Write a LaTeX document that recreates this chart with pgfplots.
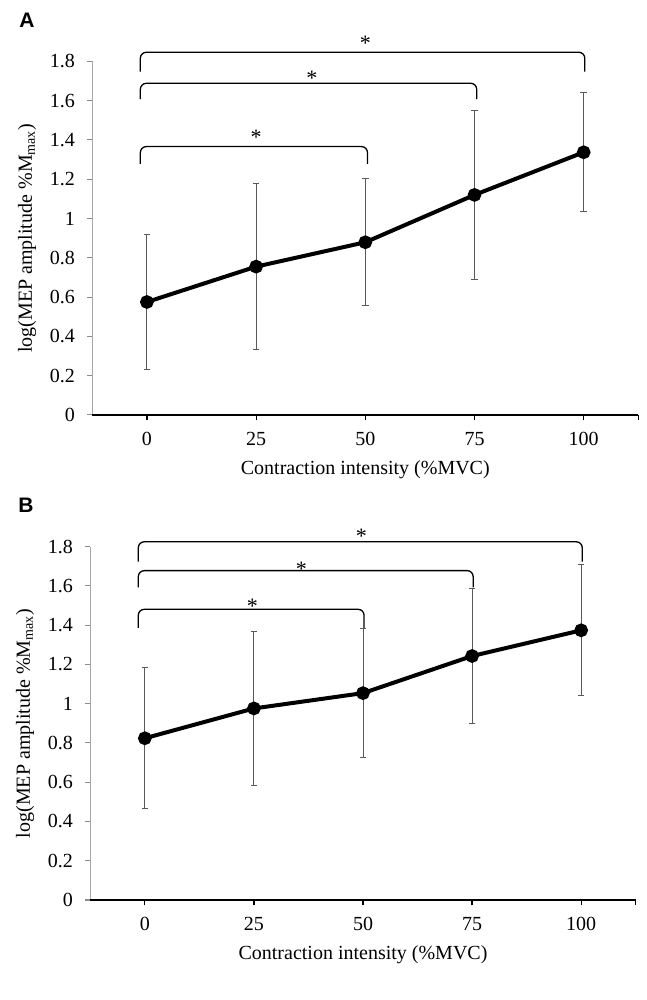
\documentclass[border=0pt]{standalone}
\usepackage{fontspec}
\setmainfont{Liberation Serif}
\newfontfamily\arialfont{Liberation Sans}
\usepackage{pgfplots}
\pgfplotsset{compat=1.18}
\usepackage{pgfplotstable}

\pgfplotstableread{
x y e
0 0.575 0.345
1 0.755 0.422
2 0.879 0.323
3 1.120 0.429
4 1.337 0.302
}\dataA
\pgfplotstableread{
x y e
0 0.824 0.358
1 0.976 0.394
2 1.054 0.330
3 1.243 0.344
4 1.374 0.334
}\dataB

\pgfplotsset{panel/.style={
  scale only axis, width=273pt, height=176.85pt,
  xmin=-0.5, xmax=4.5, ymin=0, ymax=1.8,
  xtick={0,1,2,3,4,4.5}, xticklabels={0,25,50,75,100,{}},
  ytick={0,0.2,0.4,0.6,0.8,1,1.2,1.4,1.6,1.8},
  yticklabels={0,0.2,0.4,0.6,0.8,1,1.2,1.4,1.6,1.8},
  axis x line*=bottom, axis y line*=left,
  x axis line style={black, line width=0.6pt, -},
  y axis line style={black!35, line width=0.5pt, -},
  tick align=outside, major tick length=2.7pt,
  xtick style={black, line width=0.6pt},
  ytick style={black!45, line width=0.5pt},
  clip=false,
  tick label style={font=\fontsize{10}{12}\selectfont},
  xticklabel style={yshift=-2.5pt},
  yticklabel style={xshift=-2.5pt},
  /pgf/number format/assume math mode=true,
  xlabel={Contraction intensity (\%MVC)},
  ylabel={log(MEP amplitude \%M\textsubscript{max})},
  label style={font=\fontsize{10}{12}\selectfont},
  xlabel style={at={(axis description cs:0.5,-0.155)}, anchor=center},
  ylabel style={at={(axis description cs:-0.1196,0.5)}, anchor=center},
  errbar/.style={draw=none, mark=none, forget plot,
    error bars/.cd, y dir=both, y explicit,
    error bar style={black!65, line width=0.5pt},
    error mark options={rotate=90, mark size=1.6pt, black!65, line width=0.5pt}},
  mainline/.style={black, line width=2pt, mark=*, mark size=2.4pt,
    mark options={solid, fill=black}},
}}

\begin{document}
\begin{tikzpicture}
\path[use as bounding box] (0,0) rectangle (323.5pt,500pt);
\node[font=\arialfont\bfseries\fontsize{10.5}{11}\selectfont] at (13.5pt,490pt) {A};
\node[font=\arialfont\bfseries\fontsize{10.5}{11}\selectfont] at (13pt,247.5pt) {B};

\begin{axis}[panel, at={(46.15pt,292.5pt)}, anchor=south west]
\addplot[errbar] table[x=x, y=y, y error=e] {\dataA};
\addplot[mainline] table[x=x, y=y] {\dataA};
\draw[black, line width=0.6pt] (axis cs:-0.5,0) -- ++(-2.7pt,0);
\draw[black, line width=0.65pt, rounded corners=3pt]
  (axis cs:-0.06,1.748) -- (axis cs:-0.06,1.846) -- (axis cs:4.01,1.846) -- (axis cs:4.01,1.748);
\draw[black, line width=0.65pt, rounded corners=3pt]
  (axis cs:-0.06,1.608) -- (axis cs:-0.06,1.688) -- (axis cs:3.02,1.688) -- (axis cs:3.02,1.608);
\draw[black, line width=0.65pt, rounded corners=3pt]
  (axis cs:-0.06,1.278) -- (axis cs:-0.06,1.366) -- (axis cs:2.02,1.366) -- (axis cs:2.02,1.278);
\node[font=\fontsize{11}{12}\selectfont, inner sep=0pt] at (axis cs:2.0,1.89) {*};
\node[font=\fontsize{11}{12}\selectfont, inner sep=0pt] at (axis cs:1.51,1.714) {*};
\node[font=\fontsize{11}{12}\selectfont, inner sep=0pt] at (axis cs:1.0,1.415) {*};
\end{axis}

\begin{axis}[panel, at={(45.15pt,50pt)}, anchor=south west, width=272.7pt, height=176.65pt]
\addplot[errbar] table[x=x, y=y, y error=e] {\dataB};
\addplot[mainline] table[x=x, y=y] {\dataB};
\draw[black, line width=0.6pt] (axis cs:-0.5,0) -- ++(-2.7pt,0);
\draw[black, line width=0.65pt, rounded corners=3pt]
  (axis cs:-0.06,1.724) -- (axis cs:-0.06,1.825) -- (axis cs:4.01,1.825) -- (axis cs:4.01,1.724);
\draw[black, line width=0.65pt, rounded corners=3pt]
  (axis cs:-0.06,1.593) -- (axis cs:-0.06,1.678) -- (axis cs:3.01,1.678) -- (axis cs:3.01,1.593);
\draw[black, line width=0.65pt, rounded corners=3pt]
  (axis cs:-0.06,1.387) -- (axis cs:-0.06,1.481) -- (axis cs:2.01,1.481) -- (axis cs:2.01,1.387);
\node[font=\fontsize{11}{12}\selectfont, inner sep=0pt] at (axis cs:1.985,1.852) {*};
\node[font=\fontsize{11}{12}\selectfont, inner sep=0pt] at (axis cs:1.436,1.685) {*};
\node[font=\fontsize{11}{12}\selectfont, inner sep=0pt] at (axis cs:0.985,1.496) {*};
\end{axis}
\end{tikzpicture}
\end{document}
